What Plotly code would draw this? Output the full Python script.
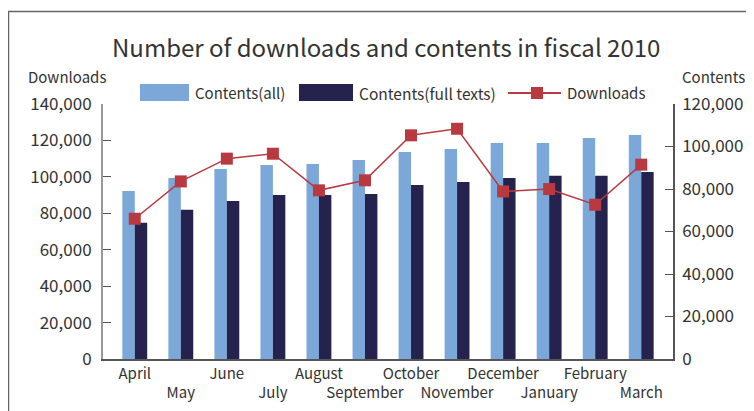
import plotly.graph_objects as go

months = ["April", "May", "June", "July", "August", "September", "October",
          "November", "December", "January", "February", "March"]
contents_all = [79100, 85200, 89400, 91300, 91800, 93700, 97400, 98800,
                101700, 101700, 104000, 105400]
contents_full = [64100, 70200, 74400, 77200, 77200, 77700, 81900, 83300,
                 85200, 86200, 86200, 88000]
downloads = [77000, 97500, 110000, 112700, 92600, 98100, 122800, 126400,
             92000, 93300, 84700, 106700]
tick_labels = [m if i % 2 == 0 else "<br>" + m for i, m in enumerate(months)]

FONT = "Noto Sans CJK JP"
TXT = "#333333"
C_ALL = "#7ba7d9"
C_FULL = "#25234d"
C_DL = "#b83a40"

fig = go.Figure()
fig.add_trace(go.Bar(x=months, y=contents_all, name="Contents(all)",
                     marker=dict(color=C_ALL, line=dict(width=0)), yaxis="y"))
fig.add_trace(go.Bar(x=months, y=contents_full, name="Contents(full texts)",
                     marker=dict(color=C_FULL, line=dict(width=0)), yaxis="y"))
fig.add_trace(go.Scatter(x=months, y=downloads, name="Downloads", mode="lines+markers",
                         line=dict(color=C_DL, width=1.5),
                         marker=dict(symbol="square", size=12, color=C_DL),
                         yaxis="y2"))

# page body has an 8px margin, so figure coordinates = window coordinates - 8
OFF = 8
W, H = 754 - OFF, 411 - OFF
PL, PR, PT, PB = 103, 673, 104, 359  # plot area in window pixels
L, R, T, B = PL - OFF, W - (PR - OFF), PT - OFF, H - (PB - OFF)
pw, ph = PR - PL, PB - PT

def px(x):
    return (x - PL) / pw

def py(y):
    return (PB - y) / ph

shapes = [
    dict(type="rect", xref="paper", yref="paper", x0=px(8.5), x1=px(790), y0=py(450), y1=py(11.5),
         line=dict(color="#666666", width=1.5), layer="below"),
    dict(type="rect", xref="paper", yref="paper", x0=px(140), x1=px(189), y0=py(101), y1=py(84),
         fillcolor=C_ALL, line=dict(width=0)),
    dict(type="rect", xref="paper", yref="paper", x0=px(299), x1=px(353), y0=py(101), y1=py(84),
         fillcolor=C_FULL, line=dict(width=0)),
    dict(type="line", xref="paper", yref="paper", x0=px(508), x1=px(561), y0=py(93), y1=py(93),
         line=dict(color=C_DL, width=2)),
    dict(type="rect", xref="paper", yref="paper", x0=px(531), x1=px(543), y0=py(99), y1=py(87),
         fillcolor=C_DL, line=dict(width=0)),
]

def ann(text, x, y, size, xanchor="left"):
    return dict(text=text, xref="paper", yref="paper", x=px(x), y=py(y), showarrow=False,
                xanchor=xanchor, yanchor="middle", font=dict(family=FONT, size=size, color=TXT))

annotations = [
    ann("Number of downloads and contents in fiscal 2010", 386, 47, 24, "center"),
    ann("Downloads", 67, 77, 15, "center"),
    ann("Contents", 713, 77, 15, "center"),
    ann("Contents(all)", 193, 93, 15),
    ann("Contents(full texts)", 357, 93, 15.5),
    ann("Downloads", 565, 93, 15),
]

fig.update_layout(
    width=W, height=H,
    margin=dict(l=L, r=R, t=T, b=B, pad=0, autoexpand=False),
    paper_bgcolor="white", plot_bgcolor="white",
    barmode="group", bargap=0.46, bargroupgap=0,
    showlegend=False,
    font=dict(family=FONT, size=15, color=TXT),
    xaxis=dict(type="category", range=[-0.69, 11.69], tickmode="array",
               tickvals=months, ticktext=tick_labels, showline=True,
               linecolor="#555555", linewidth=1.5, ticks="", showgrid=False,
               tickangle=0, automargin=False,
               tickfont=dict(size=15, color=TXT), ticklabelstandoff=0),
    yaxis=dict(side="right", range=[0, 120000], dtick=20000, tickformat=",",
               showline=True, linecolor="#555555", linewidth=1.5, ticks="inside",
               ticklen=8, tickcolor="#555555", showgrid=False, zeroline=False,
               automargin=False,
               tickfont=dict(size=17, color=TXT), ticklabelstandoff=4),
    yaxis2=dict(side="left", overlaying="y", range=[0, 140000], dtick=20000,
                tickformat=",", showline=True, linecolor="#999999", linewidth=2,
                ticks="inside", ticklen=8, tickcolor="#555555", showgrid=False,
                automargin=False,
                zeroline=False, tickfont=dict(size=17, color=TXT), ticklabelstandoff=6),
    shapes=shapes,
    annotations=annotations,
)

fig.write_html("out.html")
